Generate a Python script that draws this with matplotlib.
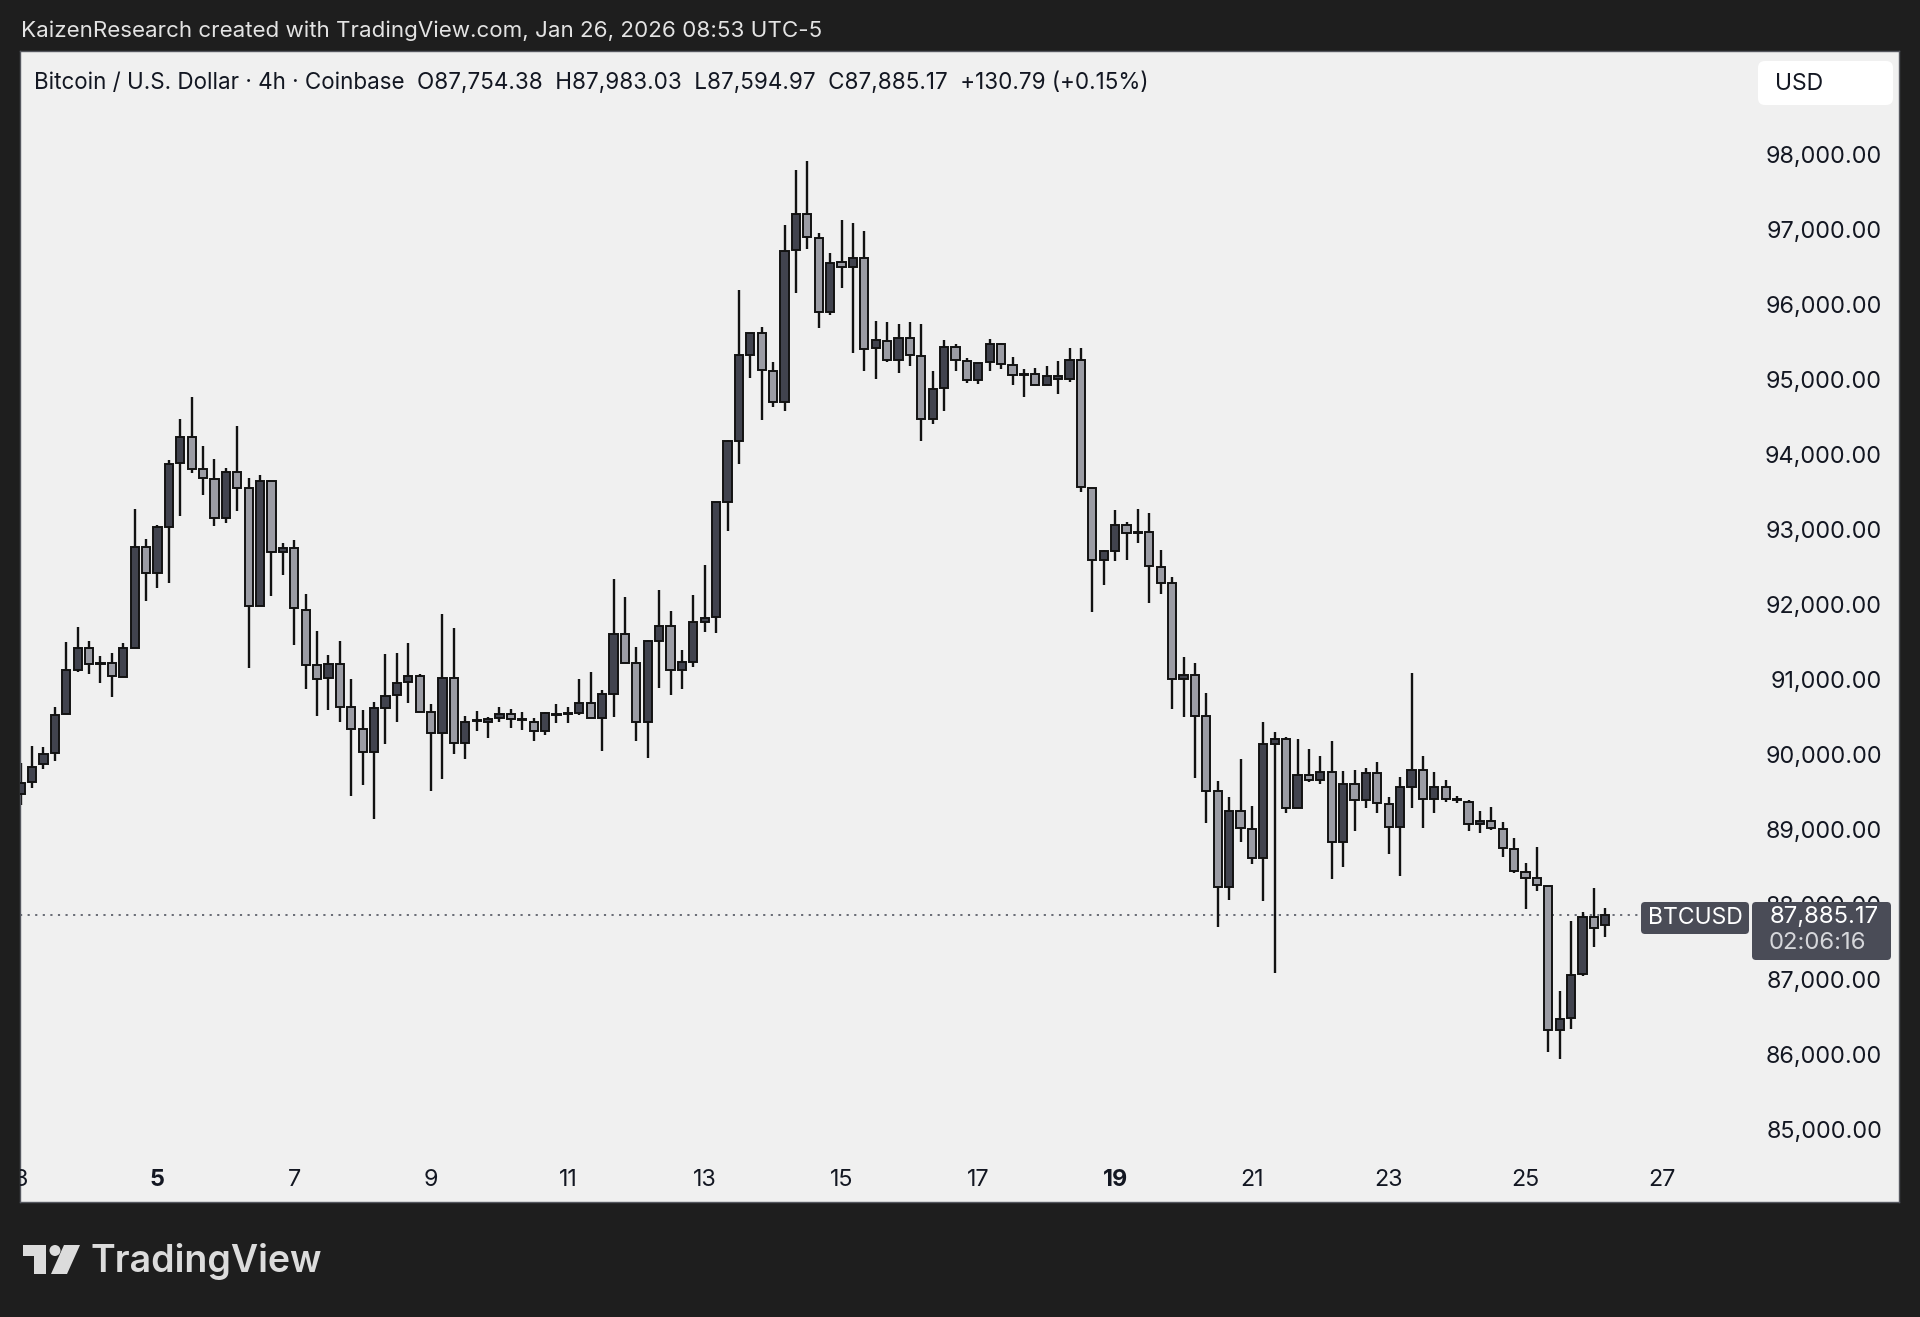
import matplotlib
matplotlib.use("Agg")
import matplotlib.pyplot as plt
import matplotlib.patches as mpatches
import matplotlib.transforms as mtransforms

plt.rcParams["font.family"] = ["Inter", "DejaVu Sans"]

# ── BTC/USD 4h candles (Coinbase), Jan 3 → Jan 26 2026 ──────────────
opens = [
    89496, 89665, 89896, 90042, 90562, 91154, 91451, 91240, 91251, 91065,
    91447, 92789, 92447, 93065, 93913, 94260, 93829, 93705, 93180, 93793,
    93576, 92003, 93678, 92722, 92776, 91954, 91220, 91042, 91234, 90656,
    90363, 90056, 90647, 90816, 90989, 91074, 90589, 90309, 91047, 90185,
    90475, 90456, 90518, 90567, 90490, 90465, 90345, 90560, 90570, 90585,
    90709, 90509, 90835, 91630, 91243, 90465, 91537, 91744, 91156, 91265,
    91798, 91863, 93393, 94204, 95352, 95651, 95145, 94721, 96751, 97240,
    96914, 95924, 96588, 96533, 96642, 95445, 95537, 95291, 95583, 95345,
    94495, 94917, 95461, 95277, 95025, 95256, 95495, 95222, 95086, 95106,
    94957, 95039, 95039, 95291, 93576, 92624, 92740, 93093, 92998, 92998,
    92522, 92318, 91029, 91086, 90540, 89540, 88264, 89278, 89033, 88651,
    90166, 90233, 89318, 89753, 89686, 89789, 88864, 89629, 89420, 89784,
    89366, 89055, 89598, 89820, 89433, 89598, 89433, 89398, 89096, 89140,
    89033, 88767, 88464, 88376, 88273, 86354, 86509, 87096, 87856, 87754.38,
]
highs = [
    89909, 90140, 90123, 90656, 91531, 91722, 91545, 91340, 91376, 91518,
    93300, 92905, 93082, 93954, 94496, 94798, 94140, 93962, 93842, 94407,
    93718, 93754, 93678, 92847, 92887, 92162, 91674, 91354, 91545, 91038,
    90620, 90723, 91367, 91385, 91509, 91100, 90700, 91900, 91709, 90545,
    90607, 90523, 90656, 90634, 90589, 90509, 90589, 90700, 90656, 91029,
    91131, 90890, 92364, 92125, 91466, 91553, 92217, 91934, 91417, 92152,
    92560, 93387, 94215, 96217, 95651, 95728, 95265, 97088, 97823, 97937,
    96985, 96707, 97148, 97115, 97012, 95809, 95798, 95767, 95787, 95767,
    95141, 95549, 95495, 95311, 95243, 95570, 95515, 95331, 95161, 95175,
    95209, 95277, 95447, 95447, 93576, 92760, 93284, 93121, 93304, 93243,
    92760, 92400, 91322, 91242, 90851, 89673, 89455, 89966, 89344, 90455,
    90331, 90264, 90229, 90095, 90011, 90206, 89811, 89820, 89851, 89922,
    89455, 89722, 91109, 90011, 89789, 89686, 89480, 89420, 89278, 89322,
    89122, 88909, 88576, 88798, 88273, 86878, 87811, 87931, 88242, 87983.03,
]
lows = [
    89354, 89576, 89834, 89940, 90562, 91127, 91100, 90976, 90798, 91065,
    91447, 92074, 92251, 92318, 93207, 93785, 93487, 93074, 93109, 93278,
    91176, 92003, 92145, 92416, 91487, 90896, 90540, 90620, 90465, 89478,
    89616, 89163, 90163, 90456, 90718, 90598, 89540, 89696, 90034, 89963,
    90345, 90251, 90456, 90376, 90354, 90212, 90287, 90443, 90452, 90554,
    90509, 90073, 90530, 91243, 90204, 89975, 90911, 90819, 90900, 91200,
    91662, 91651, 93007, 93894, 95053, 94492, 94666, 94601, 96179, 96762,
    95717, 95891, 96244, 95379, 95145, 95037, 95265, 95107, 95209, 94209,
    94427, 94610, 95141, 94984, 94971, 95141, 95161, 94957, 94794, 94957,
    94957, 94835, 94991, 93529, 91923, 92284, 92604, 92624, 92848, 92046,
    92168, 90640, 90522, 89718, 89118, 87731, 88087, 88864, 88566, 88073,
    87118, 89242, 89318, 89664, 89629, 88362, 88531, 89011, 89317, 89242,
    88695, 88407, 89309, 89051, 89251, 89389, 89380, 89011, 88976, 89020,
    88656, 88451, 87962, 88211, 86065, 85962, 86363, 87074, 87456, 87594.97,
]
closes = [
    89652, 89865, 90029, 90554, 91149, 91451, 91234, 91251, 91074, 91451,
    92789, 92451, 93060, 93905, 94260, 93838, 93709, 93185, 93793, 93585,
    92003, 93678, 92722, 92785, 91976, 91220, 91029, 91234, 90665, 90372,
    90056, 90643, 90807, 90985, 91074, 90598, 90309, 91047, 90185, 90465,
    90480, 90505, 90567, 90500, 90487, 90345, 90576, 90565, 90578, 90709,
    90509, 90835, 91630, 91243, 90465, 91543, 91744, 91156, 91265, 91793,
    91853, 93387, 94204, 95347, 95651, 95156, 94721, 96740, 97240, 96930,
    95924, 96577, 96533, 96642, 95434, 95553, 95292, 95583, 95359, 94495,
    94903, 95461, 95291, 95025, 95243, 95495, 95229, 95086, 95106, 94957,
    95073, 95073, 95291, 93597, 92624, 92740, 93093, 92978, 92978, 92535,
    92318, 91029, 91086, 90540, 89544, 88264, 89273, 89051, 88651, 90162,
    90233, 89318, 89753, 89686, 89789, 88864, 89629, 89420, 89784, 89375,
    89055, 89598, 89820, 89433, 89598, 89433, 89425, 89096, 89140, 89042,
    88776, 88473, 88384, 88287, 86354, 86500, 87087, 87856, 87713, 87885.17,
]

price_ticks = [85000, 86000, 87000, 88000, 89000, 90000, 91000, 92000,
               93000, 94000, 95000, 96000, 97000, 98000]
day_labels = [3, 5, 7, 9, 11, 13, 15, 17, 19, 21, 23, 25, 27]
bold_days = [5, 19]

last_price = "87,885.17"
countdown = "02:06:16"
header = ("Bitcoin / U.S. Dollar \u00b7 4h \u00b7 Coinbase  O87,754.38  H87,983.03  "
          "L87,594.97  C87,885.17  +130.79 (+0.15%)")
credit = "KaizenResearch created with TradingView.com, Jan 26, 2026 08:53 UTC-5"

# ── styling ───────────────────────────────────────────
W, H = 1920, 1317
OUTER_BG = "#1e1e1e"
PANEL_BG = "#f0f0f0"
UP_FILL = "#41434e"
DOWN_FILL = "#9b9ca4"
EDGE = "#121212"
LABEL_BOX = "#4a4c57"
TEXT = "#131722"
AXIS_FS = 16.8


def fx(px):
    return px / W


def fy(py):
    return 1 - py / H


fig = plt.figure(figsize=(W / 100, H / 100), dpi=100)
fig.patch.set_facecolor(OUTER_BG)

# panel spans x 20..1899 px, y 51..1202 px
ax = fig.add_axes([fx(20), fy(1202), fx(1899) - fx(20), fy(51) - fy(1202)])
ax.set_facecolor(PANEL_BG)
ax.set_xlim(-0.06, 164.76)
ax.set_ylim(84060, 99407)
ax.set_xticks([])
ax.set_yticks([])
for s in ax.spines.values():
    s.set_color("#55575f")
    s.set_linewidth(1.0)

# ── candles ───────────────────────────────────────────
idx = list(range(len(opens)))
ax.vlines(idx, lows, highs, color=EDGE, linewidth=1.7, zorder=2)
bottoms = [min(o, c) for o, c in zip(opens, closes)]
heights = [max(abs(c - o), 12) for o, c in zip(opens, closes)]
fills = [UP_FILL if c >= o else DOWN_FILL for o, c in zip(opens, closes)]
ax.bar(idx, heights, bottom=bottoms, width=0.72, color=fills,
       edgecolor=EDGE, linewidth=1.4, zorder=3)

# last price dotted line
ax.plot([-0.06, 142.1], [closes[-1], closes[-1]], color="#5d606b",
        linestyle=(0, (1.2, 3)), linewidth=1.3, zorder=1)

# ── price axis labels ─────────────────────────────────
ytrans = mtransforms.blended_transform_factory(fig.transFigure, ax.transData)
for p in price_ticks:
    ax.text(fx(1882), p, f"{p:,.2f}", transform=ytrans, ha="right",
            va="center", fontsize=AXIS_FS, color=TEXT, zorder=4)

# ── date labels ───────────────────────────────────────
xtrans = mtransforms.blended_transform_factory(ax.transData, fig.transFigure)
for d in day_labels:
    pos = 12 + (d - 5) * 6
    ax.text(pos, fy(1180), str(d), transform=xtrans, ha="center",
            va="center", fontsize=AXIS_FS, color=TEXT, clip_on=True,
            fontweight="bold" if d in bold_days else "normal")

# ── boxes drawn in pixel space ────────────────────────
ident = mtransforms.IdentityTransform()


def box(x0, y0, x1, y1, color, r=5):
    p = mpatches.FancyBboxPatch((x0 + r, H - y1 + r), x1 - x0 - 2 * r, y1 - y0 - 2 * r,
                                boxstyle=f"round,pad={r}", facecolor=color,
                                edgecolor="none", transform=ident, zorder=10)
    fig.add_artist(p)


box(1758, 61, 1893, 105, "#ffffff", r=7)
fig.text(fx(1775), fy(84), "USD", ha="left", va="center", fontsize=16.5,
         color=TEXT, zorder=11)

box(1641, 902, 1749, 934, LABEL_BOX, r=4)
fig.text(fx(1695), fy(918), "BTCUSD", ha="center", va="center",
         fontsize=16.5, color="#ffffff", zorder=11)
box(1752, 902, 1891, 960, LABEL_BOX, r=4)
fig.text(fx(1879), fy(917), last_price, ha="right", va="center",
         fontsize=17.2, color="#ffffff", zorder=11)
fig.text(fx(1866), fy(943), countdown, ha="right", va="center",
         fontsize=17.2, color="#d6d7db", zorder=11)

# ── header texts ──────────────────────────────────────
fig.text(fx(21), fy(31), credit, ha="left", va="center", fontsize=16.1,
         color="#e3e3e3")
fig.text(fx(34), fy(83), header, ha="left", va="center", fontsize=16.15,
         color=TEXT)

# ── TradingView logo ──────────────────────────────────
LOGO = "#dcdcdc"


def poly(pts):
    fig.add_artist(mpatches.Polygon([(x, H - y) for x, y in pts], closed=True,
                                    facecolor=LOGO, edgecolor="none",
                                    transform=ident))


poly([(23, 1245), (46, 1245), (46, 1274), (34, 1274), (34, 1256), (23, 1256)])
fig.add_artist(mpatches.Circle((55, H - 1250.5), 5.5, facecolor=LOGO,
                               edgecolor="none", transform=ident))
poly([(64, 1245), (80, 1245), (67, 1274), (51, 1274)])
fig.text(fx(91), fy(1261), "TradingView", ha="left", va="center",
         fontsize=27, fontweight="semibold", color=LOGO)

fig.savefig("out.png", dpi=100, facecolor=OUTER_BG)
